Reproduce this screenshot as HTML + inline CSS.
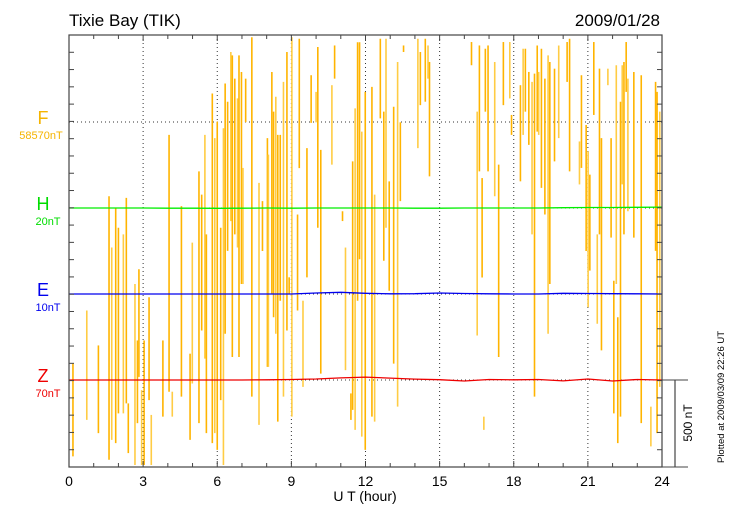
<!DOCTYPE html>
<html><head><meta charset="utf-8">
<style>
body{margin:0;background:#fff;}
svg{display:block;font-family:"Liberation Sans",sans-serif;}
</style></head>
<body>
<svg id="chart" width="730" height="520" viewBox="0 0 730 520" xmlns="http://www.w3.org/2000/svg">
<text x="69" y="26" font-size="17">Tixie Bay (TIK)</text>
<text x="660" y="26" font-size="17" text-anchor="end">2009/01/28</text>
<g id="grid"></g>
<g id="series"></g>
<g id="axes"></g>
<text x="43" y="124" font-size="18" fill="#f5b400" text-anchor="middle">F</text>
<text x="41" y="139" font-size="11" fill="#f5b400" text-anchor="middle">58570nT</text>
<text x="43" y="210" font-size="18" fill="#00dd00" text-anchor="middle">H</text>
<text x="48" y="225" font-size="11" fill="#00dd00" text-anchor="middle">20nT</text>
<text x="43" y="296" font-size="18" fill="#0000ee" text-anchor="middle">E</text>
<text x="48" y="311" font-size="11" fill="#0000ee" text-anchor="middle">10nT</text>
<text x="43" y="382" font-size="18" fill="#ee0000" text-anchor="middle">Z</text>
<text x="48" y="397" font-size="11" fill="#ee0000" text-anchor="middle">70nT</text>
<text x="365" y="501" font-size="14" text-anchor="middle">U T (hour)</text>
<text transform="translate(692,423) rotate(-90)" font-size="12" text-anchor="middle">500 nT</text>
<text transform="translate(724,397) rotate(-90)" font-size="9.5" text-anchor="middle">Plotted at 2009/03/09 22:26 UT</text>
</svg>
<script>
// F spikes: hour, top (nT rel. baseline), bottom (nT rel. baseline)
const fHours=[0.16,0.72,1.19,1.62,1.73,1.89,2.0,2.2,2.32,2.4,2.67,2.77,2.83,2.94,3.04,3.24,3.33,3.8,4.05,4.18,4.55,4.9,4.99,5.26,5.37,5.5,5.56,5.8,5.9,6.0,6.14,6.25,6.32,6.42,6.55,6.61,6.71,6.82,6.88,6.98,7.04,7.15,7.4,7.69,7.83,8.03,8.07,8.21,8.28,8.37,8.45,8.55,8.68,8.82,8.91,9.02,9.25,9.32,9.47,9.63,9.8,10.0,10.07,10.19,10.64,10.75,11.07,11.19,11.41,11.48,11.58,11.68,11.76,11.85,11.99,12.26,12.37,12.6,12.74,12.83,12.96,13.14,13.3,13.41,13.54,14.12,14.22,14.42,14.53,14.59,16.29,16.52,16.61,16.72,16.79,16.85,16.96,17.23,17.39,17.58,17.84,17.91,18.27,18.38,18.47,18.61,18.74,18.84,18.95,19.01,19.12,19.26,19.39,19.46,19.65,19.82,20.16,20.26,20.66,20.74,20.93,21.01,21.08,21.24,21.38,21.47,21.55,21.81,21.94,22.05,22.15,22.21,22.32,22.39,22.46,22.55,22.62,22.86,23.16,23.55,23.74,23.8,23.91];
const fTop=[-1405,-1096,-1299,-432,-730,-499,-615,-653,-441,-1636,-942,-1270,-856,-1559,-1270,-1019,-1703,-1270,-75,-1568,-489,-1347,-701,-287,-422,-75,-653,166,-94,2,-615,-36,224,118,407,387,252,137,387,291,-267,252,493,-354,-460,-94,-190,291,60,147,-75,-75,233,407,-903,493,-538,484,-1039,-152,272,175,436,-162,214,445,-519,-730,-1578,-229,79,464,464,-56,175,204,-422,484,60,484,-345,89,349,-2,445,484,407,484,445,349,465,60,445,-326,-1713,426,445,349,-248,465,465,41,214,426,426,291,233,281,445,291,426,252,387,349,310,445,465,484,-113,272,-17,-171,-306,465,-653,310,-94,310,-94,-923,330,-1135,118,330,349,465,252,291,272,-1655,233,175,60];
const fBottom=[-1944,-1732,-1809,-1964,-1848,-1867,-1694,-1694,-1636,-1925,-1994,-1751,-1482,-1994,-1994,-1617,-1994,-1713,-1568,-1713,-1597,-1848,-1520,-1751,-1212,-1376,-1809,-1867,-1809,-1906,-1617,-1994,-1231,-749,-576,-1366,-653,-730,-1366,-942,-942,-1,-1597,-1761,-750,-1424,-1424,-1000,-1135,-1231,-1742,-1039,-1597,-1212,-1000,-1713,-1096,-268,-1540,-903,-5,-2,-615,-1463,-248,252,-576,-1443,-1732,-1674,-1790,-1039,-798,-1829,-1906,-1713,-1742,21,-807,-615,-981,-1405,-1655,-460,407,-152,98,118,252,-316,330,-1241,-287,-904,-1790,60,-287,-432,-1366,98,137,-75,-345,-75,60,-133,-653,-1597,-56,-75,-383,-538,-1231,-942,-229,-94,233,-287,-363,-267,-750,-1077,-864,41,-1173,-653,-1328,214,-672,-1694,-942,-1867,-1713,-363,-653,175,-519,-672,-1751,-1886,-749,-1809,-1540];
// H, E, Z hourly deviations (nT, 500 nT scale bar)
const compHours=[0,1,2,3,4,5,6,7,8,9,10,11,12,13,14,15,16,17,18,19,20,21,22,23,24];
const hVals=[0,0,0,0,-1,-1,-2,-1,0,-1,0,0,0,0,-1,-1,0,0,0,0,2,3,3,4,5];
const eVals=[0,0,0,0,0,0,0,0,0,0,6,10,4,1,2,6,3,1,0,0,4,3,2,1,0];
const zVals=[0,0,0,0,0,0,0,0,1,3,6,12,17,11,5,2,-6,3,1,3,-5,6,-6,3,0];

const NS="http://www.w3.org/2000/svg";
const X0=69,X1=662,Y0=35,Y1=467;
const PX_PER_NT=86/500;
const x=h=>X0+h*(X1-X0)/24;
const base={F:122,H:208,E:294,Z:380};
const yOf=(b,v)=>base[b]-v*PX_PER_NT;
function mk(tag,attrs,parent){const e=document.createElementNS(NS,tag);for(const k in attrs)e.setAttribute(k,attrs[k]);parent.appendChild(e);return e;}
const grid=document.getElementById('grid'),series=document.getElementById('series'),axes=document.getElementById('axes');
for(let h=3;h<24;h+=3){const l=mk('line',{x1:x(h),x2:x(h),y1:Y0,y2:Y1,stroke:'#333','stroke-width':1,'stroke-dasharray':'1,3'},grid);

}
['F','H','E','Z'].forEach(k=>{const l=mk('line',{x1:X0,x2:X1,y1:base[k],y2:base[k],stroke:'#333','stroke-width':1,'stroke-dasharray':'1,3'},grid);

});
// F spikes
for(let i=0;i<fHours.length;i++){
 const y1=Math.max(Y0,yOf('F',fTop[i])),y2=Math.min(Y1,yOf('F',fBottom[i]));
 const l=mk('line',{x1:x(fHours[i]),x2:x(fHours[i]),y1:y1,y2:y2,stroke:i%3==1?'#ffcc44':'#ffb400','stroke-width':1.6},series);
 
 
}
function comp(k,vals,col){
 const pts=compHours.map((h,i)=>x(h).toFixed(1)+','+yOf(k,vals[i]).toFixed(1)).join(' ');
 const p=mk('polyline',{points:pts,fill:'none',stroke:col,'stroke-width':1.3},series);
 
 
}
comp('H',hVals,'#00ee00');comp('E',eVals,'#0000ee');comp('Z',zVals,'#ee0000');
// frame
const fr=mk('rect',{x:X0,y:Y0,width:X1-X0,height:Y1-Y0,fill:'none',stroke:'#444','stroke-width':1.2},axes);


for(let h=0;h<=24;h++){
 const len=h%3==0?6:4;
 mk('line',{x1:x(h),x2:x(h),y1:Y1,y2:Y1-len,stroke:'#444'},axes);
 mk('line',{x1:x(h),x2:x(h),y1:Y0,y2:Y0+len,stroke:'#444'},axes);
 if(h%3==0){const t=mk('text',{x:x(h),y:486,'font-size':14,'text-anchor':'middle'},axes);t.textContent=h;
 
 }
}
for(let k=1;k<25;k++){const y=Y0+k*(Y1-Y0)/25;
 mk('line',{x1:X0,x2:X0+5,y1:y,y2:y,stroke:'#444'},axes);
 mk('line',{x1:X1,x2:X1-5,y1:y,y2:y,stroke:'#444'},axes);}
// scale bar
mk('line',{x1:X1,x2:688,y1:380,y2:380,stroke:'#444'},axes);
mk('line',{x1:X1,x2:688,y1:467,y2:467,stroke:'#444'},axes);
const sb=mk('line',{x1:675,x2:675,y1:380,y2:467,stroke:'#444','stroke-width':1.2},axes);


</script>
</body></html>
